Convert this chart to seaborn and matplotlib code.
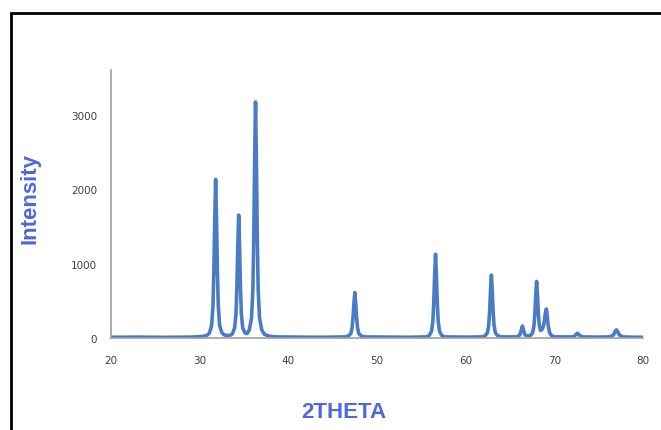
import matplotlib
matplotlib.use("Agg")
import matplotlib.pyplot as plt
import seaborn as sns
import pandas as pd
from matplotlib.patches import Rectangle

two_theta = [20, 23, 26, 29, 30.3, 30.8, 31.1, 31.35, 31.5, 31.6, 31.7, 31.8,
             31.9, 32.0, 32.1, 32.25, 32.5, 32.8, 33.1, 33.4, 33.7, 33.95,
             34.1, 34.2, 34.3, 34.4, 34.5, 34.6, 34.7, 34.85, 35.1, 35.35,
             35.6, 35.85, 36.0, 36.1, 36.2, 36.3, 36.4, 36.5, 36.6, 36.75,
             37.0, 37.3, 37.8, 38.5, 41, 44, 46.5, 46.8, 47.05, 47.2, 47.3,
             47.4, 47.5, 47.6, 47.7, 47.8, 47.95, 48.2, 48.6, 51, 53.5, 55.6,
             55.9, 56.15, 56.3, 56.4, 56.5, 56.6, 56.7, 56.8, 56.9, 57.05,
             57.3, 57.6, 60, 61.9, 62.2, 62.45, 62.6, 62.7, 62.8, 62.9, 63.0,
             63.1, 63.2, 63.35, 63.6, 64.0, 65.8, 66.1, 66.25, 66.4, 66.55,
             66.7, 67.0, 67.3, 67.55, 67.7, 67.8, 67.9, 68.0, 68.1, 68.2,
             68.3, 68.45, 68.65, 68.8, 68.9, 69.0, 69.1, 69.2, 69.3, 69.45,
             69.7, 70.1, 72.1, 72.4, 72.6, 72.8, 73.1, 75, 76.3, 76.7, 76.85,
             77.0, 77.15, 77.3, 77.7, 79, 80]
intensity = [10, 12, 9, 12, 20, 35, 65, 170, 430, 900, 1600, 2130,
             1600, 900, 430, 170, 70, 40, 35, 35, 55, 140,
             330, 690, 1240, 1650, 1240, 690, 330, 140, 70, 60,
             110, 270, 650, 1330, 2380, 3170, 2380, 1330, 650, 270,
             110, 50, 25, 15, 12, 10, 15, 30, 60, 140, 280,
             470, 610, 470, 280, 140, 60, 30, 15, 12, 10, 15,
             35, 90, 225, 470, 845, 1125, 845, 470, 225, 90,
             35, 15, 12, 15, 30, 70, 170, 355, 635, 845, 635,
             355, 170, 70, 30, 15, 15, 40, 95, 160, 95,
             40, 25, 35, 70, 160, 320, 570, 760, 570, 330,
             175, 100, 120, 175, 260, 340, 390, 300, 175, 75,
             30, 15, 15, 40, 65, 40, 15, 12, 15, 45, 85,
             110, 85, 45, 15, 10, 10]

x_ticks = [20, 30, 40, 50, 60, 70, 80]
y_ticks = [0, 1000, 2000, 3000]

df = pd.DataFrame({"2THETA": two_theta, "Intensity": intensity})

sns.set_style("white")
fig = plt.figure(figsize=(6.61, 4.31), dpi=100)
fig.patch.set_facecolor("white")
fig.patches.append(Rectangle((11 / 661, -0.05), 1.0, 1 - 14 / 431 + 0.05,
                             transform=fig.transFigure, fill=False,
                             edgecolor="black", linewidth=2))

ax = fig.add_axes([111 / 661, 1 - 339 / 431, (643 - 111) / 661, (339 - 71) / 431])
sns.lineplot(data=df, x="2THETA", y="Intensity", ax=ax, color="#4a7cc4",
             linewidth=2.6)

ax.set_xlim(20, 80)
ax.set_ylim(0, 3600)
ax.set_xticks(x_ticks)
ax.set_yticks(y_ticks)
ax.set_xticklabels([str(t) for t in x_ticks])
ax.set_yticklabels([str(t) for t in y_ticks])
for s in ["top", "right"]:
    ax.spines[s].set_visible(False)
for s in ["left", "bottom"]:
    ax.spines[s].set_color("#a0a0a0")
    ax.spines[s].set_linewidth(1.2)
ax.tick_params(axis="both", direction="out", length=4, width=1,
               color="#a0a0a0", labelsize=7.5, labelcolor="#404040")
ax.tick_params(axis="x", pad=8)
ax.tick_params(axis="y", pad=6)
ax.set_xlabel("")
ax.set_ylabel("")

fig.text(344 / 661, 1 - 413 / 431, "2THETA", ha="center", va="center",
         fontsize=16, fontweight="bold", color="#4f68d8", family="Liberation Sans")
fig.text(30 / 661, 1 - 199 / 431, "Intensity", ha="center", va="center",
         rotation=90, fontsize=16, fontweight="bold", color="#4f68d8",
         family="Liberation Sans")

fig.savefig("out.png", dpi=100, facecolor="white")
